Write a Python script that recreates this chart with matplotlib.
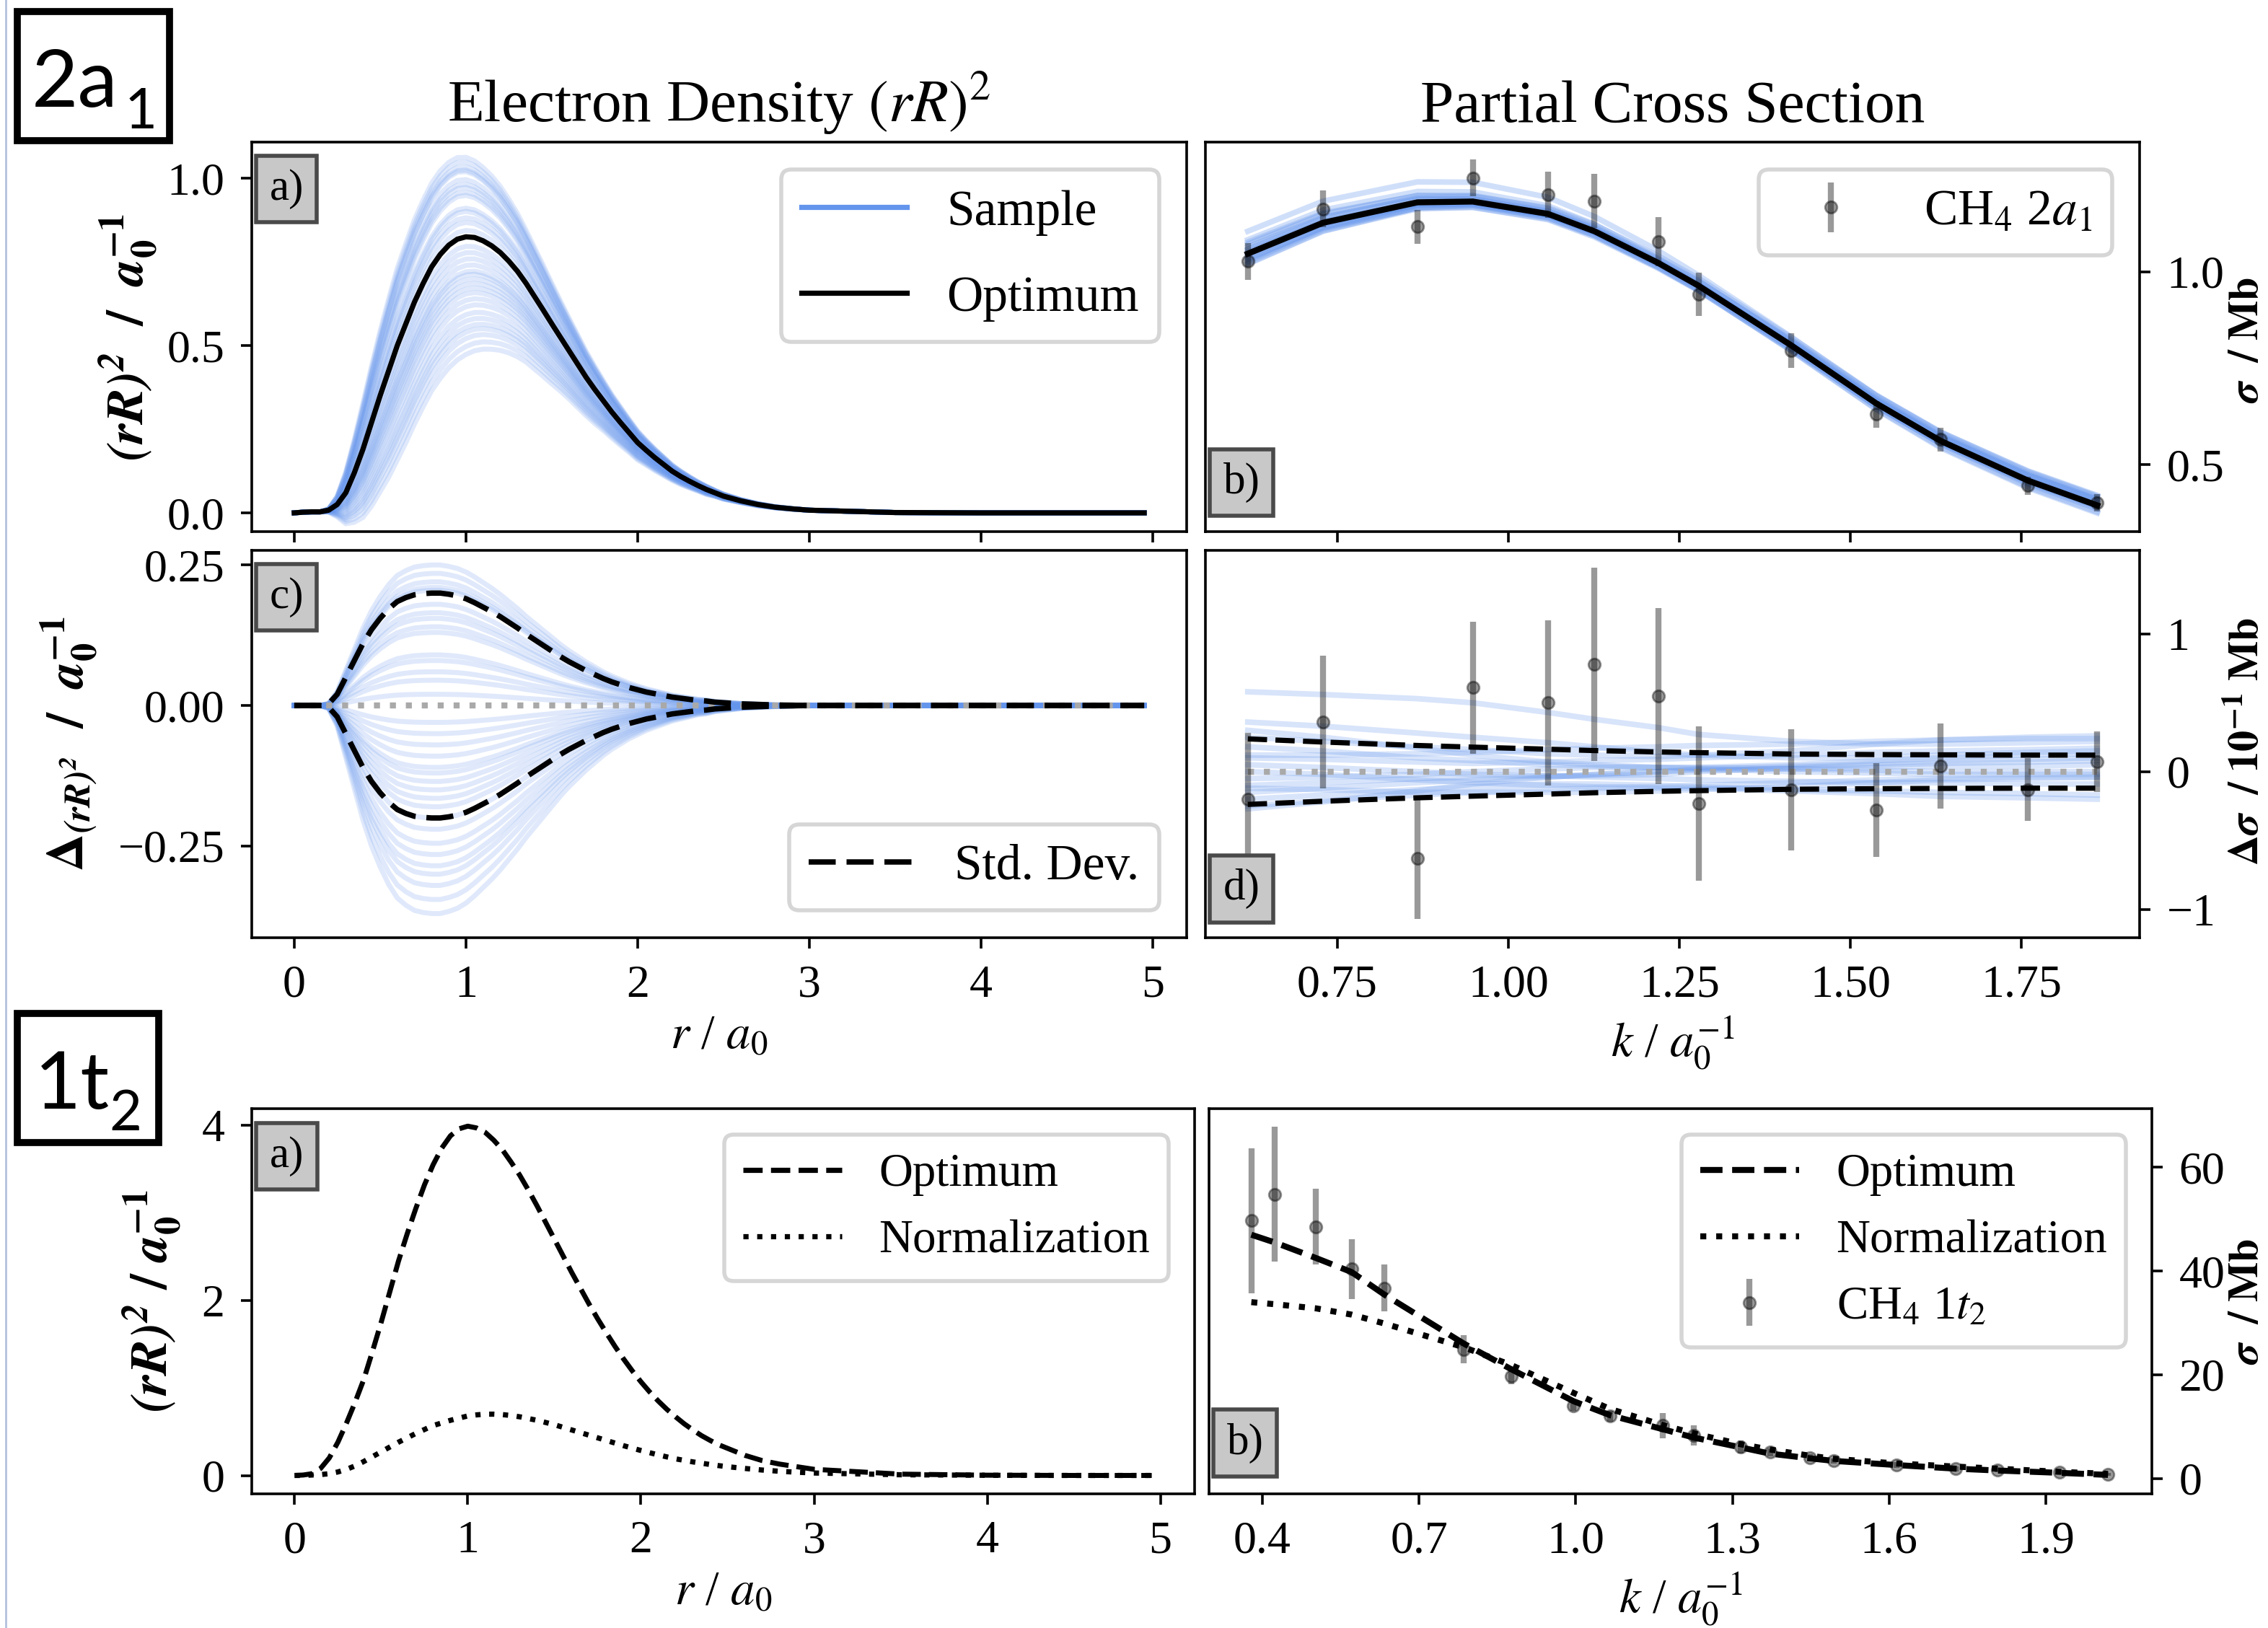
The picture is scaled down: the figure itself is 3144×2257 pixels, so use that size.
import matplotlib.pyplot as plt
import numpy as np
from matplotlib.lines import Line2D
from matplotlib.patches import Rectangle

plt.rcParams["font.family"] = ["Liberation Serif", "DejaVu Serif"]
plt.rcParams["mathtext.fontset"] = "stix"
plt.rcParams["axes.linewidth"] = 1.3

W, H, DPI = 3144, 2257, 200
BLUE = "cornflowerblue"
TICK = 23
XLAB = 24
YLAB = 26
LEG = 25

# ---- radial grid (r / a0) shared by the density panels ----
r_grid = [0.0, 0.05, 0.1, 0.15, 0.2, 0.25, 0.3, 0.35, 0.4, 0.45, 0.5, 0.55, 0.6,
          0.65, 0.7, 0.75, 0.8, 0.85, 0.9, 0.95, 1.0, 1.05, 1.1, 1.15, 1.2, 1.25,
          1.3, 1.35, 1.4, 1.45, 1.5, 1.55, 1.6, 1.65, 1.7, 1.75, 1.8, 1.85, 1.9,
          1.95, 2.0, 2.05, 2.1, 2.15, 2.2, 2.25, 2.3, 2.35, 2.4, 2.45, 2.5,
          2.6, 2.7, 2.8, 2.9, 3.0, 3.5, 4.0, 4.5, 4.95]

# 2a1 optimum density and its sample standard deviation
dens_opt_2a1 = [0.0, 0.002, 0.003, 0.003, 0.008, 0.025, 0.06, 0.12, 0.19, 0.27, 0.35,
                0.425, 0.50, 0.565, 0.63, 0.685, 0.735, 0.772, 0.80, 0.818, 0.825,
                0.823, 0.813, 0.798, 0.778, 0.752, 0.722, 0.686, 0.646, 0.606, 0.565,
                0.525, 0.485, 0.445, 0.405, 0.369, 0.335, 0.301, 0.27, 0.24, 0.21,
                0.187, 0.165, 0.145, 0.125, 0.109, 0.095, 0.082, 0.07, 0.06, 0.05,
                0.036, 0.025, 0.017, 0.012, 0.008, 0.001, 0.0, 0.0, 0.0]
dens_std_2a1 = [0.0, 0.0, 0.0, 0.0, 0.003, 0.02, 0.05, 0.08, 0.11, 0.135, 0.155,
                0.172, 0.185, 0.192, 0.197, 0.199, 0.20, 0.20, 0.198, 0.195, 0.19,
                0.183, 0.175, 0.167, 0.158, 0.148, 0.138, 0.127, 0.117, 0.107, 0.097,
                0.087, 0.078, 0.07, 0.062, 0.055, 0.048, 0.042, 0.037, 0.032, 0.028,
                0.024, 0.021, 0.018, 0.015, 0.013, 0.011, 0.009, 0.008, 0.006, 0.005,
                0.003, 0.002, 0.001, 0.0005, 0.0, 0.0, 0.0, 0.0, 0.0]
# peak deviation of each sample (read at r ~ 0.85 in panel c)
dens_dev_peaks = [0.25, 0.235, 0.22, 0.21, 0.205, 0.18, 0.165, 0.155, 0.14, 0.13,
                  0.09, 0.08, 0.06, 0.045, 0.02, -0.03, -0.05, -0.07, -0.09, -0.11,
                  -0.12, -0.135, -0.15, -0.165, -0.18, -0.2, -0.22, -0.245, -0.265,
                  -0.285, -0.3, -0.32, -0.345, -0.37]

# 2a1 partial cross section
k_2a1 = [0.619, 0.729, 0.867, 0.948, 1.058, 1.126, 1.219, 1.278, 1.414, 1.538,
         1.632, 1.760, 1.861]
sigma_2a1 = [1.027, 1.163, 1.117, 1.243, 1.200, 1.183, 1.078, 0.941, 0.796, 0.631,
             0.566, 0.446, 0.402]
sigma_err_2a1 = [0.048, 0.048, 0.044, 0.048, 0.060, 0.070, 0.064, 0.056, 0.044,
                 0.034, 0.031, 0.023, 0.022]
fit_2a1 = [1.047, 1.127, 1.180, 1.182, 1.150, 1.105, 1.023, 0.964, 0.809, 0.659,
           0.562, 0.459, 0.395]
fit_std_2a1 = [0.238, 0.215, 0.19, 0.178, 0.163, 0.153, 0.143, 0.138, 0.128, 0.124,
               0.122, 0.12, 0.12]  # in 1e-1 Mb
sample_dev_2a1 = [  # in 1e-1 Mb
    [0.58, 0.56, 0.53, 0.50, 0.43, 0.38, 0.32, 0.27, 0.22, 0.20, 0.20, 0.21, 0.22],
    [0.36, 0.33, 0.28, 0.25, 0.21, 0.18, 0.14, 0.12, 0.10, 0.10, 0.12, 0.14, 0.15],
    [0.25, 0.22, 0.18, 0.16, 0.13, 0.12, 0.11, 0.12, 0.15, 0.20, 0.23, 0.25, 0.26],
    [0.18, 0.15, 0.10, 0.08, 0.05, 0.04, 0.03, 0.03, 0.05, 0.08, 0.10, 0.12, 0.13],
    [0.10, 0.09, 0.07, 0.06, 0.07, 0.08, 0.09, 0.10, 0.12, 0.14, 0.15, 0.16, 0.17],
    [0.05, 0.03, 0.0, -0.02, -0.03, -0.03, -0.02, 0.0, 0.03, 0.05, 0.06, 0.07, 0.08],
    [-0.05, -0.04, -0.02, 0.0, 0.02, 0.03, 0.03, 0.03, 0.02, 0.01, 0.0, 0.0, 0.0],
    [-0.10, -0.08, -0.05, -0.04, -0.03, -0.04, -0.05, -0.06, -0.07, -0.08, -0.08, -0.09, -0.09],
    [-0.15, -0.12, -0.08, -0.06, -0.04, -0.02, 0.0, 0.02, 0.04, 0.06, 0.08, 0.09, 0.10],
    [-0.20, -0.17, -0.13, -0.11, -0.09, -0.09, -0.10, -0.11, -0.13, -0.14, -0.15, -0.16, -0.17],
    [-0.25, -0.21, -0.17, -0.15, -0.13, -0.12, -0.12, -0.12, -0.14, -0.16, -0.18, -0.19, -0.20],
    [-0.27, -0.22, -0.14, -0.09, -0.04, -0.02, 0.0, 0.01, 0.02, 0.03, 0.04, 0.04, 0.05],
    [0.12, 0.12, 0.13, 0.14, 0.16, 0.17, 0.18, 0.19, 0.20, 0.22, 0.23, 0.24, 0.24],
    [0.0, -0.02, -0.06, -0.08, -0.10, -0.11, -0.11, -0.10, -0.08, -0.06, -0.05, -0.04, -0.04],
    [0.30, 0.25, 0.17, 0.12, 0.07, 0.05, 0.03, 0.02, 0.0, -0.01, -0.02, -0.02, -0.02],
    [-0.12, -0.13, -0.15, -0.15, -0.15, -0.15, -0.14, -0.13, -0.11, -0.08, -0.06, -0.05, -0.04],
]

# 1t2 density
dens_opt_1t2 = [0.0, 0.005, 0.02, 0.08, 0.2, 0.38, 0.6, 0.84, 1.1, 1.42, 1.75, 2.1,
                2.45, 2.76, 3.05, 3.32, 3.55, 3.74, 3.88, 3.96, 3.99, 3.97, 3.92,
                3.83, 3.72, 3.58, 3.43, 3.26, 3.08, 2.89, 2.70, 2.51, 2.32, 2.14,
                1.96, 1.79, 1.63, 1.475, 1.33, 1.195, 1.07, 0.955, 0.85, 0.755, 0.67,
                0.59, 0.52, 0.455, 0.40, 0.35, 0.31,
                0.23, 0.17, 0.13, 0.10, 0.07, 0.015, 0.003, 0.0, 0.0]
dens_norm_1t2 = [0.0, 0.0, 0.005, 0.01, 0.02, 0.04, 0.07, 0.11, 0.16, 0.215, 0.27,
                 0.325, 0.38, 0.43, 0.48, 0.525, 0.57, 0.60, 0.63, 0.655, 0.68, 0.692,
                 0.70, 0.70, 0.695, 0.685, 0.67, 0.65, 0.63, 0.605, 0.58, 0.55, 0.52,
                 0.49, 0.46, 0.43, 0.40, 0.37, 0.34, 0.312, 0.285, 0.26, 0.235, 0.212,
                 0.19, 0.172, 0.155, 0.14, 0.125, 0.112, 0.10,
                 0.08, 0.062, 0.048, 0.037, 0.028, 0.008, 0.002, 0.0, 0.0]

# 1t2 partial cross section
k_1t2 = [0.379, 0.424, 0.503, 0.571, 0.633, 0.786, 0.876, 0.996, 1.066, 1.167,
         1.226, 1.316, 1.372, 1.448, 1.494, 1.614, 1.728, 1.807, 1.926, 2.019]
sigma_1t2 = [49.7, 54.8, 48.5, 40.4, 36.7, 24.9, 19.7, 14.0, 12.0, 10.2, 8.3, 6.1,
             5.05, 4.0, 3.4, 2.6, 1.9, 1.6, 1.2, 0.85]
sigma_err_1t2 = [14, 13, 7.3, 5.8, 4.5, 2.7, 1.5, 1.0, 1.0, 2.4, 2.0, 1.2, 0.8, 0.7,
                 0.5, 0.5, 0.5, 0.4, 0.4, 0.3]
xs_opt_1t2 = [47.0, 45.5, 42.5, 39.8, 35.5, 26.0, 21.1, 14.9, 12.2, 9.5, 7.9, 6.0,
              4.8, 3.9, 3.4, 2.6, 1.9, 1.55, 1.1, 0.7]
xs_norm_1t2 = [34.0, 33.6, 32.8, 31.6, 29.9, 25.3, 21.9, 16.5, 13.4, 10.3, 8.7, 6.6,
               5.6, 4.4, 3.8, 2.9, 2.3, 1.9, 1.3, 0.9]


def frac(left, top, right, bottom):
    return [left / W, 1 - bottom / H, (right - left) / W, (bottom - top) / H]


def style(ax, right=False):
    ax.tick_params(direction="out", length=5.5, width=1.3, labelsize=TICK, pad=8)
    if right:
        ax.yaxis.tick_right()


def tag(ax, s, y, va):
    ax.text(0.019, y, s, transform=ax.transAxes, fontsize=22, ha="left", va=va,
            bbox=dict(boxstyle="square,pad=0.3", fc="#c8c8c8", ec="#4a4a4a", lw=2))


def legend(ax, handles, labels, loc, size=LEG, spacing=0.5):
    leg = ax.legend(handles, labels, loc=loc, fontsize=size, framealpha=0.8,
                    borderaxespad=0.55, handlelength=2.1, labelspacing=spacing)
    leg.get_frame().set_edgecolor("#cccccc")
    leg.get_frame().set_linewidth(2)


def block_label(x0, y0, x1, y1, big, small, xb, yb, xs, ys):
    # box and text positions in reference pixels from the top-left corner
    fig.add_artist(Rectangle((x0 / W, 1 - y1 / H), (x1 - x0) / W, (y1 - y0) / H,
                             transform=fig.transFigure, fc="white", ec="black", lw=3.5))
    fig.text(xb / W, 1 - yb / H, big, family="Lato", fontsize=40,
             ha="left", va="baseline")
    fig.text(xs / W, 1 - ys / H, small, family="Lato", fontsize=28,
             ha="left", va="baseline")


def right_label(y, s):
    fig.text(0.9995, y, s, rotation=90, ha="right", va="center", fontsize=21)


fig = plt.figure(figsize=(W / DPI, H / DPI), dpi=DPI)
fig.add_artist(Line2D([0.0025, 0.0025], [0, 1], color="#b4c2de", lw=1))

r = np.array(r_grid)
opt = np.array(dens_opt_2a1)
shape = np.array(dens_std_2a1) / max(dens_std_2a1)
rlim = (-0.2475, 5.1975)

# ---- a) density ----
ax_a = fig.add_axes(frac(349, 197, 1645, 737))
for p in dens_dev_peaks:
    ax_a.plot(r, opt + p * shape, color=BLUE, alpha=0.2, lw=2.5)
ax_a.plot(r, opt, color="k", lw=2.6)
ax_a.set_xlim(rlim)
ax_a.set_ylim(-0.056, 1.108)
ax_a.set_xticks(range(6))
ax_a.set_xticklabels([])
ax_a.set_yticks([0.0, 0.5, 1.0])
style(ax_a)
ax_a.set_title(r"Electron Density $(rR)^2$", fontsize=30, pad=10)
ax_a.set_ylabel(r"$\mathbfit{(rR)^2}\ \ \mathbf{/}\ \ \mathbfit{a}_\mathbf{0}^{\mathbf{-1}}$",
                fontsize=YLAB)
ax_a.yaxis.set_label_coords(-0.098, 0.5)
tag(ax_a, "a)", 0.931, "top")
legend(ax_a, [Line2D([], [], color=BLUE, lw=2.6), Line2D([], [], color="k", lw=2.6)],
       ["Sample", "Optimum"], "upper right", spacing=0.8)

# ---- c) density deviation ----
ax_c = fig.add_axes(frac(349, 763, 1645, 1300))
for p in dens_dev_peaks:
    ax_c.plot(r, p * shape, color=BLUE, alpha=0.2, lw=2.5)
ax_c.plot(r, np.zeros(len(r)), color="darkgray", ls=":", lw=3)
std = np.array(dens_std_2a1)
ax_c.plot(r, std, color="k", lw=2.7, dashes=(5, 2))
ax_c.plot(r, -std, color="k", lw=2.7, dashes=(5, 2))
ax_c.set_xlim(rlim)
ax_c.set_ylim(-0.413, 0.276)
ax_c.set_xticks(range(6))
ax_c.set_yticks([-0.25, 0.0, 0.25])
style(ax_c)
ax_c.set_xlabel(r"$r$ / $a_0$", fontsize=XLAB)
ax_c.set_ylabel(r"$\mathbf{\Delta}_{\mathbfit{(rR)^2}}\ \ \mathbf{/}\ \ \mathbfit{a}_\mathbf{0}^{\mathbf{-1}}$",
                fontsize=YLAB)
ax_c.yaxis.set_label_coords(-0.163, 0.5)
tag(ax_c, "c)", 0.931, "top")
legend(ax_c, [Line2D([], [], color="k", lw=2.7, dashes=(5, 2))], ["Std. Dev."],
       "lower right")

# ---- b) partial cross section ----
k = np.array(k_2a1)
fit = np.array(fit_2a1)
sig = np.array(sigma_2a1)
err = np.array(sigma_err_2a1)
klim = (0.557, 1.923)

ax_b = fig.add_axes(frac(1671, 197, 2966, 737))
for dev in sample_dev_2a1:
    ax_b.plot(k, fit + np.array(dev) / 10, color=BLUE, alpha=0.3, lw=2.8)
ax_b.plot(k, fit, color="k", lw=3)
eb = ax_b.errorbar(k, sig, yerr=err, fmt="o", color="k", alpha=0.4, ms=6,
                   elinewidth=3)
ax_b.set_xlim(klim)
ax_b.set_ylim(0.327, 1.336)
ax_b.set_xticks([0.75, 1.0, 1.25, 1.5, 1.75])
ax_b.set_xticklabels([])
ax_b.set_yticks([0.5, 1.0])
style(ax_b, right=True)
ax_b.set_title("Partial Cross Section", fontsize=30, pad=10)
tag(ax_b, "b)", 0.074, "bottom")
legend(ax_b, [eb], [r"CH$_4$ 2$a_1$"], "upper right")
right_label(0.791, r"$\mathbfit{\sigma}\ \ \mathbf{/\ Mb}$")

# ---- d) cross section deviation ----
ax_d = fig.add_axes(frac(1671, 763, 2966, 1300))
for dev in sample_dev_2a1:
    ax_d.plot(k, dev, color=BLUE, alpha=0.25, lw=2.8)
ax_d.plot(k, np.zeros(len(k)), color="darkgray", ls=":", lw=3)
fstd = np.array(fit_std_2a1)
ax_d.plot(k, fstd, color="k", lw=2.6, ls="--")
ax_d.plot(k, -fstd, color="k", lw=2.6, ls="--")
ax_d.errorbar(k, (sig - fit) * 10, yerr=err * 10, fmt="o", color="k", alpha=0.4,
              ms=6, elinewidth=3)
ax_d.set_xlim(klim)
ax_d.set_ylim(-1.206, 1.607)
ax_d.set_xticks([0.75, 1.0, 1.25, 1.5, 1.75])
ax_d.set_yticks([-1, 0, 1])
style(ax_d, right=True)
ax_d.set_xlabel(r"$k$ / $a_0^{-1}$", fontsize=XLAB)
tag(ax_d, "d)", 0.074, "bottom")
right_label(0.5445, r"$\mathbf{\Delta}\mathbfit{\sigma}\ \ \mathbf{/\ 10^{-1}\ Mb}$")

# ---- 1t2 a) density ----
ax_e = fig.add_axes(frac(349, 1537, 1656, 2071))
ax_e.plot(r, dens_opt_1t2, color="k", ls="--", lw=2.5)
ax_e.plot(r, dens_norm_1t2, color="k", ls=":", lw=2.6)
ax_e.set_xlim(rlim)
ax_e.set_ylim(-0.21, 4.19)
ax_e.set_xticks(range(6))
ax_e.set_yticks([0, 2, 4])
style(ax_e)
ax_e.set_xlabel(r"$r$ / $a_0$", fontsize=XLAB)
ax_e.set_ylabel(r"$\mathbfit{(rR)^2}\ \mathbf{/}\ \mathbfit{a}_\mathbf{0}^{\mathbf{-1}}$",
                fontsize=YLAB)
ax_e.yaxis.set_label_coords(-0.072, 0.5)
tag(ax_e, "a)", 0.929, "top")
legend(ax_e, [Line2D([], [], color="k", ls="--", lw=2.6),
              Line2D([], [], color="k", ls=":", lw=2.6)],
       ["Optimum", "Normalization"], "upper right", size=23.4)

# ---- 1t2 b) cross section ----
ax_f = fig.add_axes(frac(1676, 1537, 2983, 2071))
ax_f.plot(k_1t2, xs_opt_1t2, color="k", ls="--", lw=3)
ax_f.plot(k_1t2, xs_norm_1t2, color="k", ls=":", lw=3)
eb2 = ax_f.errorbar(k_1t2, sigma_1t2, yerr=sigma_err_1t2, fmt="o", color="k",
                    alpha=0.4, ms=6, elinewidth=3)
ax_f.set_xlim(0.298, 2.103)
ax_f.set_ylim(-2.95, 71.3)
ax_f.set_xticks([0.4, 0.7, 1.0, 1.3, 1.6, 1.9])
ax_f.set_yticks([0, 20, 40, 60])
style(ax_f, right=True)
ax_f.set_xlabel(r"$k$ / $a_0^{-1}$", fontsize=XLAB)
tag(ax_f, "b)", 0.079, "bottom")
legend(ax_f, [Line2D([], [], color="k", ls="--", lw=3),
              Line2D([], [], color="k", ls=":", lw=3), eb2],
       ["Optimum", "Normalization", r"CH$_4$ 1$t_2$"], "upper right", size=23.4)
right_label(0.2003, r"$\mathbfit{\sigma}\ \ \mathbf{/\ Mb}$")

# ---- orbital block labels ----
block_label(24, 16, 235, 195, "2a", "1", 44, 148, 173, 178)
block_label(24, 1405, 220, 1584, "1t", "2", 48, 1537, 151, 1567)

fig.savefig("out.png", dpi=DPI)
